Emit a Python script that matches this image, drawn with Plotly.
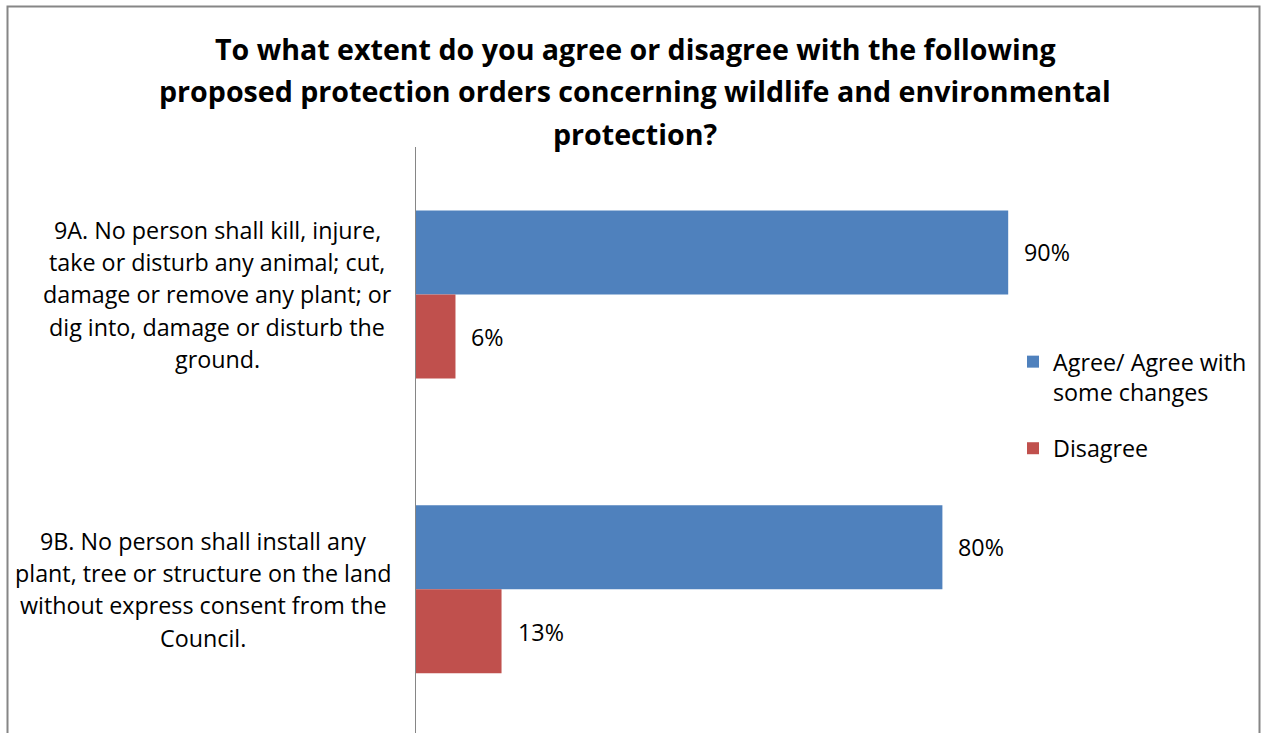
import plotly.graph_objects as go

# ---- data ----
categories = ["9A", "9B"]
category_label_lines = [
    ["9A. No person shall kill, injure,",
     "take or disturb any animal; cut,",
     "damage or remove any plant; or",
     "dig into, damage or disturb the",
     "ground."],
    ["9B. No person shall install any",
     "plant, tree or structure on the land",
     "without express consent from the",
     "Council."],
]
series_names = ["Agree/ Agree with<br>some changes", "Disagree"]
agree = [90, 80]
disagree = [6, 13]
title_lines = [
    "To what extent do you agree or disagree with the following",
    "proposed protection orders concerning wildlife and environmental",
    "protection?",
]

# ---- layout constants ----
W, H = 1262, 733
PL, PR = 416, 1074          # plot area left/right (px)
PT, PB = 147, 733           # plot area top/bottom (px)
FONT = "Open Sans"
BLUE = "#4F81BD"
RED = "#C0504D"
GRAY = "#868686"
LBL_SIZE = 23.3

def px2x(px):
    return (px - PL) / (PR - PL)

def py2y(py):
    return (PB - py) / (PB - PT)

fig = go.Figure()
fig.add_trace(go.Bar(y=categories, x=agree, orientation="h", name=series_names[0],
                     marker=dict(color=BLUE, line=dict(width=0)), legendgroup="a"))
fig.add_trace(go.Bar(y=categories, x=disagree, orientation="h", name=series_names[1],
                     marker=dict(color=RED, line=dict(width=0)), legendgroup="d"))

annotations = []
# data labels
bar_shift = 42.5
for vals, shift in ((agree, bar_shift), (disagree, -bar_shift)):
    for c, v in zip(categories, vals):
        annotations.append(dict(x=v, y=c, xref="x", yref="y", text=f"{v}%",
                                showarrow=False, xanchor="left", yanchor="middle",
                                xshift=14, yshift=shift,
                                font=dict(family=FONT, size=LBL_SIZE, color="#000")))
# category labels (one annotation per line)
label_centers = [217, 203]
line_h = 32.4
for c, lines, cx in zip(categories, category_label_lines, label_centers):
    n = len(lines)
    for k, ln in enumerate(lines):
        annotations.append(dict(x=px2x(cx), y=c, xref="paper", yref="y", text=ln,
                                showarrow=False, xanchor="center", yanchor="middle",
                                yshift=((n - 1) / 2 - k) * line_h,
                                font=dict(family=FONT, size=LBL_SIZE, color="#000")))
# title lines
title_y = [48, 91, 133]
for ln, ty in zip(title_lines, title_y):
    annotations.append(dict(x=px2x(635), y=py2y(ty), xref="paper", yref="paper",
                            text=f"<b>{ln}</b>", showarrow=False,
                            xanchor="center", yanchor="middle",
                            font=dict(family=FONT, size=28.6, color="#000")))

fig.update_layout(
    width=W, height=H,
    margin=dict(l=PL, r=W - PR, t=PT, b=H - PB, pad=0),
    paper_bgcolor="white", plot_bgcolor="white",
    barmode="group", bargap=0.43, bargroupgap=0,
    showlegend=True,
    legend=dict(x=px2x(1013), y=py2y(340), xanchor="left", yanchor="top",
                font=dict(family=FONT, size=LBL_SIZE, color="#000"),
                tracegroupgap=23, valign="top", bgcolor="rgba(0,0,0,0)",
                traceorder="grouped"),
    xaxis=dict(range=[0, 100], showgrid=False, zeroline=False, showline=False,
               showticklabels=False, ticks=""),
    yaxis=dict(categoryorder="array", categoryarray=categories,
               range=[1.488, -0.5],
               showgrid=False, zeroline=False, showline=True, linecolor=GRAY,
               linewidth=1, showticklabels=False, ticks=""),
    annotations=annotations,
    shapes=[dict(type="rect", xref="paper", yref="paper",
                 x0=px2x(7.5), x1=px2x(1259.5), y0=py2y(760), y1=py2y(6.5),
                 line=dict(color=GRAY, width=2), fillcolor="rgba(0,0,0,0)",
                 layer="below")],
)

fig.write_html("out.html", config={"displayModeBar": False},
               post_script="document.body.style.margin='0px';document.body.style.overflow='hidden';")
